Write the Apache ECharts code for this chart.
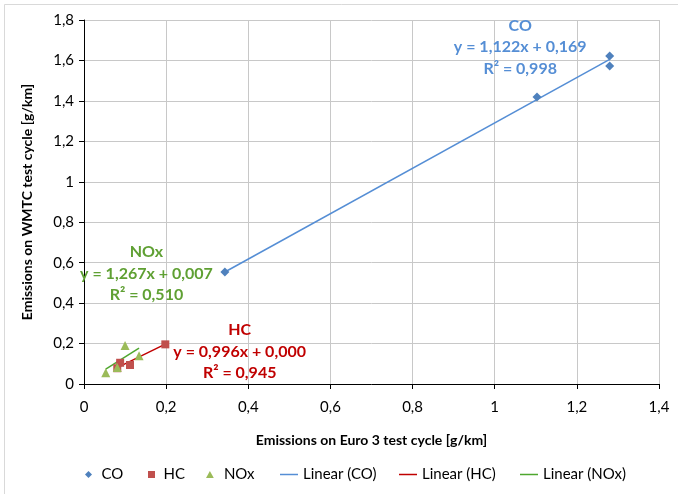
<!DOCTYPE html>
<html>
<head>
<meta charset="utf-8">
<script src="https://cdn.jsdelivr.net/npm/echarts@6/dist/echarts.min.js"></script>
<style>html,body{margin:0;padding:0;background:#fff}#c{width:678px;height:495px}</style>
</head>
<body>
<div id="c"></div>
<script>
// Data (x = Euro 3, y = WMTC), g/km
const coX = [0.343, 1.103, 1.280, 1.280];
const coY = [0.554, 1.419, 1.622, 1.573];
const hcX = [0.198, 0.088, 0.081, 0.112];
const hcY = [0.196, 0.105, 0.078, 0.094];
const noxX = [0.053, 0.081, 0.100, 0.134];
const noxY = [0.056, 0.081, 0.190, 0.140];
// Trend line end points
const coTrendX = [0.343, 1.280];
const coTrendY = [0.554, 1.605];
const hcTrendX = [0.081, 0.198];
const hcTrendY = [0.081, 0.197];
const noxTrendX = [0.053, 0.134];
const noxTrendY = [0.074, 0.177];
// Trend annotations
const coLabel = ['CO', 'y = 1,122x + 0,169', 'R² = 0,998'];
const hcLabel = ['HC', 'y = 0,996x + 0,000', 'R² = 0,945'];
const noxLabel = ['NOx', 'y = 1,267x + 0,007', 'R² = 0,510'];
const coLabelAt = [1.062, 1.665];
const hcLabelAt = [0.379, 0.160];
const noxLabelAt = [0.152, 0.546];

const zip = (a, b) => a.map((v, i) => [v, b[i]]);
const fmt = v => String(+v.toFixed(1)).replace('.', ',');
const FONT = 'Lato, "Open Sans", sans-serif';

const cMark = '#4F81BD', hMark = '#C0504D', nMark = '#9BBB59';
const cLine = '#558ED5', hLine = '#C00000', nLine = '#4EA72E';
const cText = '#558ED5', hText = '#C00000', nText = '#5FA033';

const ICON_DIAMOND = 'path://M0,1 L1,0 L2,1 L1,2 Z';
const ICON_SQUARE = 'path://M0,0 L2,0 L2,2 L0,2 Z';
const ICON_TRIANGLE = 'path://M1,0 L2,1.8 L0,1.8 Z';

function annot(name, at, lines, color) {
  return {
    name: name, type: 'scatter', data: [at], symbolSize: 0, silent: true,
    legendHoverLink: false, itemStyle: {opacity: 1},
    label: {
      show: true, position: 'inside', formatter: lines.join('\n'),
      color: color, fontFamily: FONT, fontWeight: 'bold', fontSize: 16, lineHeight: 21.5, align: 'center'
    },
    z: 5
  };
}

function leg(name, icon, left, w, h) {
  return {
    top: 467, left: left, padding: 0, itemGap: 0, itemWidth: w, itemHeight: h,
    symbolKeepAspect: true,
    textStyle: {fontFamily: FONT, fontSize: 15, color: '#000'},
    data: [{name: name, icon: icon}]
  };
}

const chart = echarts.init(document.getElementById('c'), null, {renderer: 'canvas'});
chart.setOption({
  animation: false,
  backgroundColor: '#fff',
  graphic: [{type: 'polyline', shape: {points: [[4.5, 494], [4.5, 4.5], [678, 4.5]]}, style: {stroke: '#D9D9D9', lineWidth: 1, fill: null}}],
  grid: {left: 84, top: 20, width: 575, height: 364, containLabel: false},
  xAxis: {
    type: 'value', min: 0, max: 1.4, interval: 0.2,
    name: 'Emissions on Euro 3 test cycle [g/km]', nameLocation: 'middle', nameGap: 49,
    nameTextStyle: {fontFamily: FONT, fontWeight: 'bold', fontSize: 14, color: '#000'},
    axisLine: {show: true, onZero: false, lineStyle: {color: '#000', width: 1}},
    axisTick: {show: true, length: 5, inside: false, lineStyle: {color: '#000'}},
    axisLabel: {formatter: fmt, fontFamily: FONT, fontSize: 15, color: '#000', margin: 16},
    splitLine: {show: true, lineStyle: {color: '#C8C8C8', width: 1}}
  },
  yAxis: {
    type: 'value', min: 0, max: 1.8, interval: 0.2,
    name: 'Emissions on WMTC test cycle [g/km]', nameLocation: 'middle', nameGap: 50, nameRotate: 90,
    nameTextStyle: {fontFamily: FONT, fontWeight: 'bold', fontSize: 14, color: '#000'},
    axisLine: {show: true, onZero: false, lineStyle: {color: '#000', width: 1}},
    axisTick: {show: true, length: 5, inside: false, lineStyle: {color: '#000'}},
    axisLabel: {formatter: fmt, fontFamily: FONT, fontSize: 15, color: '#000', margin: 10},
    splitLine: {show: true, lineStyle: {color: '#C8C8C8', width: 1}}
  },
  legend: [
    leg('CO', ICON_DIAMOND, 85, 16, 7),
    leg('HC', ICON_SQUARE, 148, 14, 7),
    leg('NOx', ICON_TRIANGLE, 206, 18, 7),
    leg('Linear (CO)', 'rect', 280, 18, 1.5),
    leg('Linear (HC)', 'rect', 399, 18, 1.5),
    leg('Linear (NOx)', 'rect', 520, 18, 1.5)
  ],
  series: [
    {name: 'Linear (CO)', type: 'line', data: zip(coTrendX, coTrendY), symbol: 'none', lineStyle: {color: cLine, width: 1.5}, itemStyle: {color: cLine}, z: 2},
    {name: 'Linear (HC)', type: 'line', data: zip(hcTrendX, hcTrendY), symbol: 'none', lineStyle: {color: hLine, width: 1.5}, itemStyle: {color: hLine}, z: 2},
    {name: 'Linear (NOx)', type: 'line', data: zip(noxTrendX, noxTrendY), symbol: 'none', lineStyle: {color: nLine, width: 1.5}, itemStyle: {color: nLine}, z: 2},
    {name: 'CO', type: 'scatter', data: zip(coX, coY), symbol: 'diamond', symbolSize: 9, itemStyle: {color: cMark, opacity: 1}, z: 3},
    {name: 'HC', type: 'scatter', data: zip(hcX, hcY), symbol: 'rect', symbolSize: 8, itemStyle: {color: hMark, opacity: 1}, z: 3},
    {name: 'NOx', type: 'scatter', data: zip(noxX, noxY), symbol: 'triangle', symbolSize: 9, itemStyle: {color: nMark, opacity: 1}, z: 3},
    annot('CO_label', coLabelAt, coLabel, cText),
    annot('HC_label', hcLabelAt, hcLabel, hText),
    annot('NOx_label', noxLabelAt, noxLabel, nText)
  ]
});
</script>
</body>
</html>
